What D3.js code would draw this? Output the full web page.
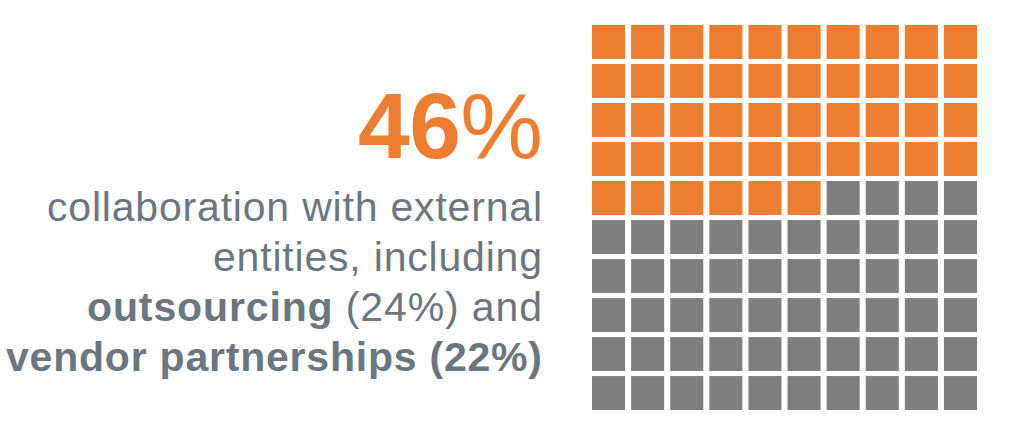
<!DOCTYPE html>
<html>
<head>
<meta charset="utf-8">
<script src="https://cdn.jsdelivr.net/npm/d3@7"></script>
<style>
  html, body { margin: 0; padding: 0; background: #ffffff; }
  svg { display: block; }
</style>
</head>
<body>
<svg id="chart" width="1026" height="435"></svg>
<script>
// ---- data ----
const categories = ["External collaboration", "Other"];
const values = [46, 54];
const colors = ["#ED7D31", "#7F7F7F"];
const headline = "46";
const headlineSuffix = "%";
const captionLines = [
  [{t: "collaboration with external", b: false}],
  [{t: "entities, including", b: false}],
  [{t: "outsourcing", b: true}, {t: " (24%) and", b: false}],
  [{t: "vendor partnerships (22%)", b: true}]
];

// ---- layout ----
const svg = d3.select("#chart");
const gridN = 10;
const x = d3.scaleBand().domain(d3.range(gridN)).range([592, 977]).paddingInner(0.155).paddingOuter(0);
const y = d3.scaleBand().domain(d3.range(gridN)).range([25, 410]).paddingInner(0.13).paddingOuter(0);

const cells = [];
let idx = 0;
values.forEach((v, ci) => {
  for (let k = 0; k < v; k++) {
    cells.push({i: idx, cat: categories[ci]});
    idx++;
  }
});
const color = d3.scaleOrdinal().domain(categories).range(colors);

svg.append("g").selectAll("rect").data(cells).join("rect")
  .attr("x", d => x(d.i % gridN))
  .attr("y", d => y(Math.floor(d.i / gridN)))
  .attr("width", x.bandwidth())
  .attr("height", y.bandwidth())
  .attr("fill", d => color(d.cat));

const FONT = "'Liberation Sans', Arimo, Arial, sans-serif";

function fit(t, left, right) {
  const node = t.node();
  const natural = node.getComputedTextLength();
  const n = node.textContent.length;
  const ls = (right - left - natural) / (n - 1);
  t.attr("letter-spacing", ls).attr("x", left).attr("text-anchor", "start");
}

// headline
const h = svg.append("text")
  .attr("y", 158)
  .attr("font-family", FONT)
  .attr("fill", colors[0])
  .attr("font-size", 93);
h.append("tspan").attr("font-weight", "bold").text(headline);
h.append("tspan").attr("font-weight", "normal").text(headlineSuffix);
fit(h, 358, 543);

// caption
const baselines = [221, 271, 321, 371];
const lefts = [47, 213, 87, 6];
captionLines.forEach((line, li) => {
  const t = svg.append("text")
    .attr("y", baselines[li])
    .attr("font-family", FONT)
    .attr("font-size", 41)
    .attr("fill", "#6A7780")
    .style("white-space", "pre");
  line.forEach(seg => {
    t.append("tspan").attr("font-weight", seg.b ? "bold" : "normal").text(seg.t);
  });
  fit(t, lefts[li], 542);
});
</script>
</body>
</html>
